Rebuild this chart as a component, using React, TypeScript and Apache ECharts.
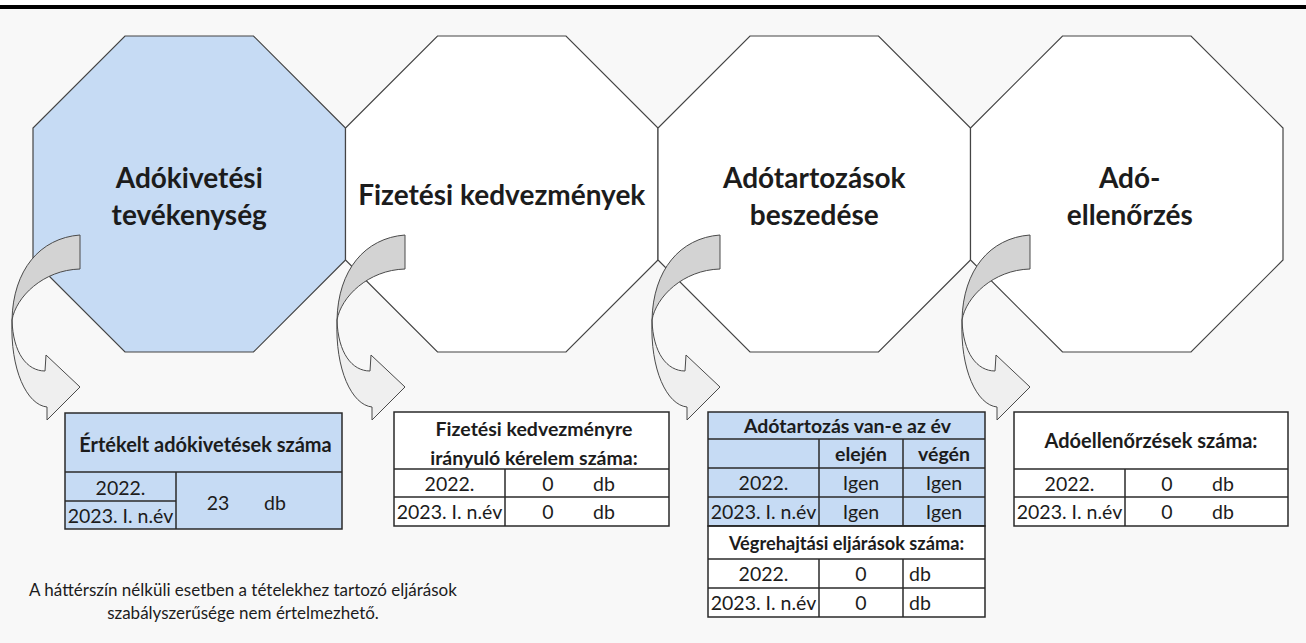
import React, { useEffect, useRef } from "react";
import * as echarts from "echarts";

// ---------- data ----------
const stageLines: string[][] = [
  ["Adókivetési", "tevékenység"],
  ["Fizetési kedvezmények"],
  ["Adótartozások", "beszedése"],
  ["Adó-", "ellenőrzés"],
];
const stageHighlighted = [true, false, false, false];
const periods = ["2022.", "2023. I. n.év"];
const unit = "db";

const assessHeader = "Értékelt adókivetések száma";
const assessedCount = 23;

const reliefHeader = ["Fizetési kedvezményre", "irányuló kérelem száma:"];
const reliefCounts = [0, 0];

const debtHeader = "Adótartozás van-e az év";
const debtColumns = ["elején", "végén"];
const debtStart = ["Igen", "Igen"];
const debtEnd = ["Igen", "Igen"];
const enforcementHeader = "Végrehajtási eljárások száma:";
const enforcementCounts = [0, 0];

const auditHeader = "Adóellenőrzések száma:";
const auditCounts = [0, 0];

const noteLines = [
  "A háttérszín nélküli esetben a tételekhez tartozó eljárások",
  "szabályszerűsége nem értelmezhető.",
];

// ---------- styles ----------
const FONT = "Lato, 'Noto Sans', sans-serif";
const BLUE = "#c6dbf4";
const INK = "#1c1c1c";
const GRID = "#2a2a2a";
const TITLE_SIZE = 28;
const CELL_SIZE = 19.5;
const HEAD_SIZE = 19.5;

let registered = false;
function registerShapes() {
  if (registered) return;
  registered = true;
  echarts.graphic.registerShape(
    "arrowBack",
    echarts.graphic.extendPath("M80 15 C40 18 13 50 12 100 C16 77 43 50 80 49 Z", {})
  );
  echarts.graphic.registerShape(
    "arrowFront",
    echarts.graphic.extendPath(
      "M12 100 C10 150 27 185 47 187 L47 200 L80 167 L46 135 L45 151 C27 151 13 133 12 100 Z",
      {}
    )
  );
}

function txt(text: string, x: number, y: number, size: number, bold: boolean, align = "center") {
  return {
    type: "text",
    z: 10,
    style: {
      text,
      x,
      y,
      fill: INK,
      font: `${bold ? "bold " : ""}${size}px ${FONT}`,
      textAlign: align,
      textVerticalAlign: "middle",
      align,
      verticalAlign: "middle",
    },
  };
}
function hline(x1: number, x2: number, y: number, z = 9) {
  return { type: "line", z, shape: { x1, y1: y, x2, y2: y }, style: { stroke: GRID, lineWidth: 1.5 } };
}
function vline(x: number, y1: number, y2: number, z = 9) {
  return { type: "line", z, shape: { x1: x, y1, x2: x, y2 }, style: { stroke: GRID, lineWidth: 1.5 } };
}
function box(x: number, y: number, w: number, h: number, fill: string, z = 8) {
  return { type: "rect", z, shape: { x, y, width: w, height: h }, style: { fill, stroke: GRID, lineWidth: 1.5 } };
}

function buildGraphics() {
  const els: any[] = [];
  // background + top rule
  els.push({ type: "rect", z: 0, shape: { x: 0, y: 0, width: 1306, height: 643 }, style: { fill: "#f8f8f8" } });
  els.push({ type: "rect", z: 0, shape: { x: 0, y: 0, width: 1306, height: 5 }, style: { fill: "#ffffff" } });
  els.push({ type: "rect", z: 1, shape: { x: 0, y: 5, width: 1306, height: 4 }, style: { fill: "#000000" } });

  // octagons
  const left0 = 33, w = 312.5, top = 36, bottom = 352, cut = 92;
  const titleY = [177, 214];
  stageLines.forEach((lines, i) => {
    const l = left0 + i * w, r = l + w;
    els.push({
      type: "polygon",
      z: 2,
      shape: {
        points: [
          [l + cut, top], [r - cut, top], [r, top + cut], [r, bottom - cut],
          [r - cut, bottom], [l + cut, bottom], [l, bottom - cut], [l, top + cut],
        ],
      },
      style: { fill: stageHighlighted[i] ? BLUE : "#ffffff", stroke: "#444444", lineWidth: 1.2 },
    });
    const cx = l + w / 2;
    if (lines.length === 1) {
      els.push(txt(lines[0], cx, 194, TITLE_SIZE, true));
    } else {
      lines.forEach((ln, k) => els.push(txt(ln, cx + (i === 3 ? 3 : 0), titleY[k], TITLE_SIZE, true)));
    }
  });

  // curved arrows
  const arrowX = [0, 325, 640, 950];
  arrowX.forEach((ox) => {
    els.push({ type: "arrowBack", z: 6, x: ox, y: 220, style: { fill: "#d3d3d3", stroke: "#4a4a4a", lineWidth: 1 } });
    els.push({ type: "arrowFront", z: 6, x: ox, y: 220, style: { fill: "#efefef", stroke: "#4a4a4a", lineWidth: 1 } });
  });

  // table 1
  {
    const L = 65, R = 342, T = 413, H1 = 472, M = 501, B = 529, C = 176;
    els.push(box(L, T, R - L, B - T, BLUE));
    els.push(hline(L, R, H1));
    els.push(hline(L, C, M));
    els.push(vline(C, H1, B));
    els.push(txt(assessHeader, (L + R) / 2 + 2, 444, HEAD_SIZE + 0.5, true));
    els.push(txt(periods[0], (L + C) / 2, 487, CELL_SIZE, false));
    els.push(txt(periods[1], (L + C) / 2, 515, CELL_SIZE, false));
    els.push(txt(String(assessedCount), 218, 502, CELL_SIZE, false));
    els.push(txt(unit, 275, 502, CELL_SIZE, false));
  }
  // table 2
  {
    const L = 394, R = 669, T = 412, H1 = 469, M = 497, B = 526, C = 505;
    els.push(box(L, T, R - L, B - T, "#ffffff"));
    els.push(hline(L, R, H1));
    els.push(hline(L, R, M));
    els.push(vline(C, H1, B));
    els.push(txt(reliefHeader[0], 534, 428, HEAD_SIZE, true));
    els.push(txt(reliefHeader[1], 534, 457, HEAD_SIZE, true));
    const ry = [483, 511];
    periods.forEach((p, k) => {
      els.push(txt(p, (L + C) / 2, ry[k], CELL_SIZE, false));
      els.push(txt(String(reliefCounts[k]), 548, ry[k], CELL_SIZE, false));
      els.push(txt(unit, 604, ry[k], CELL_SIZE, false));
    });
  }
  // table 3
  {
    const L = 708, R = 985, T = 412, C1 = 819, C2 = 903;
    const rows = [412, 439, 468, 497, 526, 559, 588, 617];
    els.push(box(L, T, R - L, rows[4] - T, BLUE));
    els.push(box(L, rows[4], R - L, rows[7] - rows[4], "#ffffff"));
    for (let k = 1; k < 7; k++) els.push(hline(L, R, rows[k]));
    els.push(vline(C1, rows[1], rows[4]));
    els.push(vline(C2, rows[1], rows[4]));
    els.push(vline(C1, rows[5], rows[7]));
    els.push(vline(C2, rows[5], rows[7]));
    const mid = (k: number) => (rows[k] + rows[k + 1]) / 2;
    const c0 = (L + C1) / 2, c1 = (C1 + C2) / 2, c2 = (C2 + R) / 2;
    els.push(txt(debtHeader, (L + R) / 2 + 1, mid(0), HEAD_SIZE, true));
    els.push(txt(debtColumns[0], c1, mid(1), HEAD_SIZE, true));
    els.push(txt(debtColumns[1], c2, mid(1), HEAD_SIZE, true));
    periods.forEach((p, k) => {
      els.push(txt(p, c0, mid(2 + k), CELL_SIZE, false));
      els.push(txt(debtStart[k], c1, mid(2 + k), CELL_SIZE, false));
      els.push(txt(debtEnd[k], c2, mid(2 + k), CELL_SIZE, false));
    });
    els.push(txt(enforcementHeader, (L + R) / 2, mid(4), 18.2, true));
    periods.forEach((p, k) => {
      els.push(txt(p, c0, mid(5 + k), CELL_SIZE, false));
      els.push(txt(String(enforcementCounts[k]), c1, mid(5 + k), CELL_SIZE, false));
      els.push(txt(unit, C2 + 6, mid(5 + k), CELL_SIZE, false, "left"));
    });
  }
  // table 4
  {
    const L = 1014, R = 1288, T = 412, H1 = 469, M = 497, B = 526, C = 1125;
    els.push(box(L, T, R - L, B - T, "#ffffff"));
    els.push(hline(L, R, H1));
    els.push(hline(L, R, M));
    els.push(vline(C, H1, B));
    els.push(txt(auditHeader, 1151, 440, HEAD_SIZE + 0.5, true));
    const ry = [483, 511];
    periods.forEach((p, k) => {
      els.push(txt(p, (L + C) / 2, ry[k], CELL_SIZE, false));
      els.push(txt(String(auditCounts[k]), 1167, ry[k], CELL_SIZE, false));
      els.push(txt(unit, 1223, ry[k], CELL_SIZE, false));
    });
  }
  // note
  els.push(txt(noteLines[0], 243, 589, 17, false));
  els.push(txt(noteLines[1], 243, 612, 17, false));
  return els;
}

export default function App() {
  const ref = useRef<HTMLDivElement>(null);
  useEffect(() => {
    if (!ref.current) return;
    registerShapes();
    const chart = echarts.init(ref.current, undefined, { renderer: "svg" });
    chart.setOption({ animation: false, graphic: { elements: buildGraphics() } });
    return () => chart.dispose();
  }, []);
  return (
    <div
      ref={ref}
      style={{ position: "absolute", left: 0, top: 0, width: 1306, height: 643 }}
    />
  );
}
